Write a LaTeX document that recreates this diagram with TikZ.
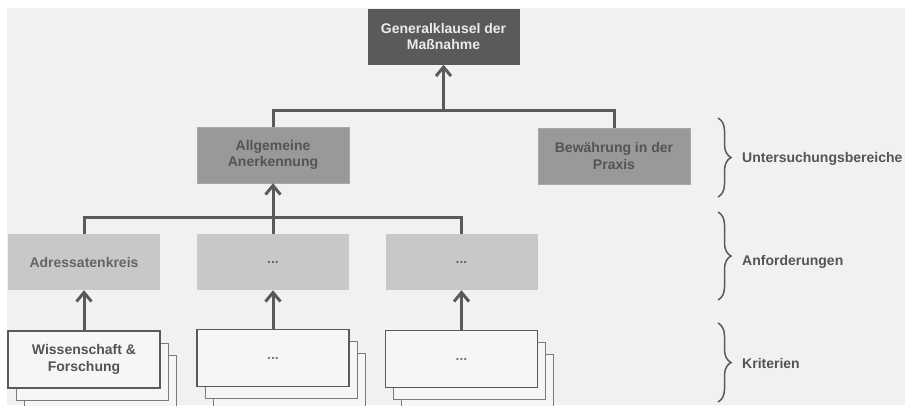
\documentclass[tikz,border=0pt]{standalone}
\usepackage{fontspec}
\setmainfont{Liberation Sans}
\usetikzlibrary{arrows.meta, shadows, decorations.pathreplacing}

\definecolor{bggrey}{HTML}{F1F1F1}
\definecolor{darkbox}{HTML}{5A5A5A}
\definecolor{midbox}{HTML}{999999}
\definecolor{lightbox}{HTML}{C8C8C8}
\definecolor{linegrey}{HTML}{5A5A5A}
\definecolor{textgrey}{HTML}{545454}

\begin{document}
\begin{tikzpicture}[x=1pt, y=-1pt,
  font=\fontsize{14}{16.5}\selectfont\bfseries,
  >={Straight Barb[length=9pt, width=15pt]},
  box/.style={minimum width=152pt, minimum height=56pt, align=center, inner sep=2pt},
  topbox/.style={box, fill=darkbox, text=white!92!black},
  areabox/.style={box, fill=midbox, draw=midbox!85!white, text=textgrey},
  reqbox/.style={box, fill=lightbox, text=textgrey!90!white},
  critbox/.style={box, minimum height=57pt, fill=white!35!bggrey, draw=linegrey, line width=1.6pt, text=textgrey,
    double copy shadow={shadow xshift=8pt, shadow yshift=-12pt, line width=1pt, draw=linegrey!80!white}},
  link/.style={draw=linegrey, line width=3pt},
  curly/.style={draw=linegrey, line width=1.5pt, decorate, decoration={brace, amplitude=13pt}},
  lbl/.style={anchor=west, text=textgrey, inner sep=0pt}]

  \useasboundingbox (0,0) rectangle (905,405);
  \fill[bggrey] (7,8) rectangle (905,405); % background

  \node[topbox] (gk) at (443.5,36.5) {Generalklausel der\\Maßnahme}; % top
  \node[areabox] (aa) at (273,155) {Allgemeine\\Anerkennung};
  \node[areabox] (bp) at (614,156) {Bewährung in der\\Praxis};

  \node[reqbox] (ak) at (84,262) {Adressatenkreis};
  \node[reqbox] (r2) at (273,262) {...};
  \node[reqbox] (r3) at (461.5,262) {...};

  \node[critbox] (wf) at (84,359.5) {Wissenschaft \&\\Forschung};
  \node[critbox, text=textgrey!80!white] (k2) at (273,358) {...};
  \node[critbox, text=textgrey!80!white] (k3) at (461.5,359) {...};

  \coordinate (j1) at (443.5,110);
  \coordinate (j2) at (273,217);

  \draw[link] (aa.north) |- (j1) -| (bp.north); % areas
  \draw[link,->] (j1) -- (gk.south);
  \draw[link] (ak.north) |- (j2) -| (r3.north); % requirements
  \draw[link,->] (r2.north) -- (aa.south);
  \draw[link,->] (wf.north) -- (ak.south); % criteria
  \draw[link,->] (k2.north) -- (r2.south);
  \draw[link,->] (k3.north) -- (r3.south);

  \draw[curly] (718,118) -- (718,197);
  \draw[curly] (718,212) -- (718,300);
  \draw[curly] (718,323) -- (718,402);
  \node[lbl] (ub) at (742,159) {Untersuchungsbereiche};
  \node[lbl] (af) at (742,262) {Anforderungen};
  \node[lbl] (kr) at (742,363) {Kriterien};

\end{tikzpicture}
\end{document}
